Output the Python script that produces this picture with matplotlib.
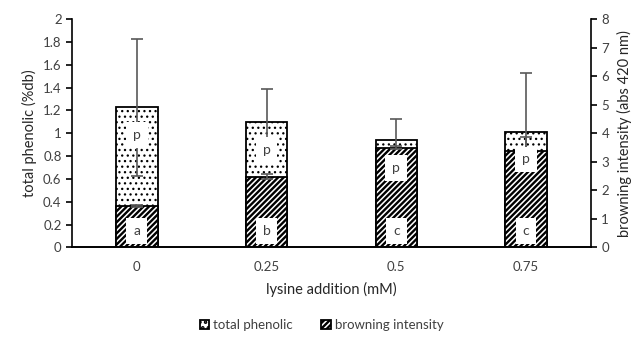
import matplotlib
matplotlib.use("Agg")
import matplotlib.pyplot as plt
import numpy as np

categories = ["0", "0.25", "0.5", "0.75"]
total_phenolic = [1.227, 1.096, 0.941, 1.014]
total_phenolic_err = [0.60, 0.29, 0.18, 0.516]
browning = [1.45, 2.48, 3.50, 3.39]
browning_err = [0.05, 0.08, 0.05, 0.48]
phenolic_labels = ["p", "p", "p", "p"]
browning_labels = ["a", "b", "c", "c"]

plt.rcParams['font.family'] = ['Lato', 'DejaVu Sans']

fig = plt.figure(figsize=(6.43, 3.55), dpi=100)
ax = fig.add_axes([0.112, 0.303, 0.807, 0.643])
ax2 = ax.twinx()

x = np.arange(len(categories))
w = 0.32
ecol = "#595959"

plt.rcParams['hatch.linewidth'] = 0.9
ax.bar(x, total_phenolic, width=w, facecolor="white", edgecolor="black",
       hatch="...", linewidth=1.3, label="total phenolic", zorder=2)
ax.errorbar(x, total_phenolic, yerr=total_phenolic_err, fmt="none",
            ecolor=ecol, elinewidth=1.2, capsize=4, capthick=1.2, zorder=3)

plt.rcParams['hatch.linewidth'] = 1.7
ax2.bar(x, browning, width=w, facecolor="white", edgecolor="black",
        hatch="//////", linewidth=1.3, label="browning intensity", zorder=2)
ax2.errorbar(x, browning, yerr=browning_err, fmt="none",
             ecolor=ecol, elinewidth=1.2, capsize=4, capthick=1.2, zorder=3)

ax.set_xlim(-0.5, len(categories) - 0.5)
ax.set_ylim(0, 2)
ax2.set_ylim(0, 8)
ax.set_yticks(np.arange(0, 2.01, 0.2))
ax.set_yticklabels(["0", "0.2", "0.4", "0.6", "0.8", "1", "1.2", "1.4", "1.6", "1.8", "2"])
ax2.set_yticks(np.arange(0, 9, 1))
ax.set_xticks(x)
ax.set_xticklabels(categories)

for a in (ax, ax2):
    a.spines['top'].set_visible(False)
    for s in a.spines.values():
        s.set_linewidth(1.2)
    a.tick_params(axis='y', direction='out', length=4, width=1.2, labelsize=9.5)
    for lab in a.get_yticklabels():
        lab.set_color("#404040")
ax.tick_params(axis='x', length=0, labelsize=9.5, pad=10, labelcolor="#404040")
ax2.spines['left'].set_visible(False)
ax.spines['right'].set_visible(False)

ax.set_ylabel("total phenolic (%db)", fontsize=10.5, color="#262626", labelpad=4)
ax2.set_ylabel("browning intensity (abs 420 nm)", fontsize=10.5, color="#262626", labelpad=6)
ax.set_xlabel("lysine addition (mM)", fontsize=10.5, color="#262626", labelpad=6)

bbox = dict(boxstyle="square,pad=0.5", facecolor="white", edgecolor="none")
for xi, v, t in zip(x, total_phenolic, phenolic_labels):
    ax2.annotate(t, xy=(xi, v), xycoords=ax.transData, xytext=(0, -20),
                 textcoords="offset points", ha="center", va="center",
                 fontsize=10, color="#404040", bbox=bbox, zorder=5)
for xi, t in zip(x, browning_labels):
    ax2.annotate(t, xy=(xi, 0), xycoords=ax.transData, xytext=(0, 12),
                 textcoords="offset points", ha="center", va="center",
                 fontsize=10, color="#404040", bbox=bbox, zorder=5)

h1, l1 = ax.get_legend_handles_labels()
h2, l2 = ax2.get_legend_handles_labels()
fig.legend(h1 + h2, l1 + l2, loc="center", bbox_to_anchor=(0.5, 0.085), ncol=2,
           frameon=False, fontsize=9.5, handlelength=0.7, handleheight=0.7,
           handletextpad=0.3, columnspacing=2.2, labelcolor="#404040")

fig.savefig("out.png", dpi=100)
